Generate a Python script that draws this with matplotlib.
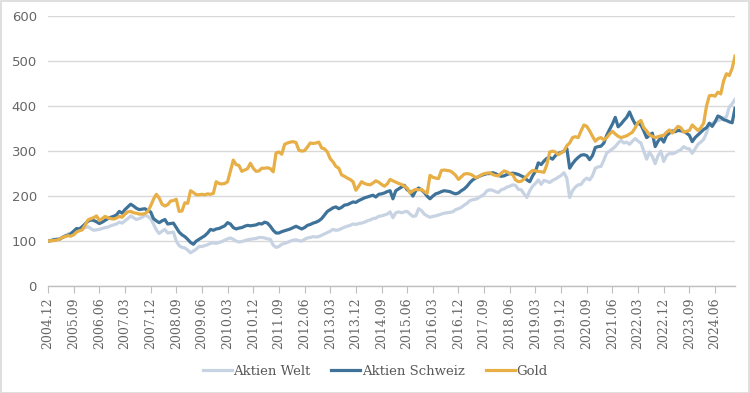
import matplotlib
matplotlib.use("Agg")
import matplotlib.pyplot as plt
from matplotlib.patches import Rectangle

# Monthly index values, 2004.12 .. 2025.01 (each row = 12 months starting in December)
aktien_welt = [
    100, 102, 103, 104, 105, 108, 112, 116, 118, 120, 124, 126,
    128, 130, 132, 128, 124, 125, 126, 128, 130, 131, 134, 136,
    138, 142, 140, 145, 150, 156, 152, 148, 150, 153, 157, 155,
    150, 138, 125, 117, 122, 126, 118, 119, 120, 100, 90, 86,
    85, 80, 74, 78, 82, 88, 88, 90, 92, 95, 96, 95,
    97, 99, 102, 105, 107, 104, 100, 98, 99, 101, 103, 104,
    105, 106, 108, 108, 107, 105, 104, 91, 86, 88, 93, 95,
    97, 100, 102, 103, 101, 100, 104, 107, 108, 110, 109, 110,
    113, 116, 119, 122, 126, 124, 125, 128, 131, 133, 135, 138,
    137, 139, 140, 142, 145, 147, 150, 151, 155, 156, 158, 160,
    165, 152, 163, 165, 163, 165, 166, 160, 155, 156, 172, 168,
    160, 156, 153, 155, 156, 158, 160, 162, 163, 164, 165, 170,
    172, 175, 180, 184, 190, 192, 193, 196, 200, 204, 212, 214,
    213, 210, 208, 214, 216, 220, 222, 225, 224, 215, 214, 205,
    197, 212, 222, 228, 236, 226, 235, 233, 230, 235, 238, 242,
    246, 252, 240, 197, 212, 220, 225, 226, 235, 240, 236, 245,
    262, 265, 266, 280, 296, 300, 305, 310, 318, 324, 318, 320,
    315, 322, 328, 322, 318, 300, 282, 298, 288, 272, 290, 300,
    277, 290, 295, 294, 296, 300, 303, 310, 306, 305, 295, 305,
    315, 320, 326, 340, 360, 362, 365, 368, 370, 374, 376, 398,
    405, 415,
]

aktien_schweiz = [
    100, 101, 103, 104, 104, 108, 111, 113, 116, 122, 128, 127,
    132, 138, 144, 147, 146, 143, 139, 142, 146, 150, 153, 155,
    158, 166, 162, 170, 176, 182, 178, 173, 170, 171, 172, 168,
    165, 150, 145, 141, 145, 148, 138, 139, 140, 130, 120, 114,
    110, 104, 97, 93, 100, 104, 108, 112, 118, 126, 124, 127,
    128, 131, 134, 141, 138, 130, 127, 129, 130, 133, 135, 134,
    135, 136, 139, 138, 142, 140, 133, 124, 118, 118, 121, 123,
    125, 127, 130, 133, 130, 127, 130, 135, 137, 140, 142, 145,
    150, 158, 166, 170, 174, 176, 172, 175, 180, 181, 184, 187,
    186, 190, 193, 196, 198, 200, 202, 198, 204, 205, 207, 210,
    212, 194, 212, 216, 220, 224, 214, 210, 200, 212, 218, 214,
    208, 200, 194, 200, 205, 207, 210, 212, 211, 210, 207, 205,
    207, 212, 216, 222, 230, 236, 240, 243, 246, 248, 250, 250,
    252, 250, 246, 244, 245, 248, 250, 251, 250, 248, 245, 242,
    236, 232, 245, 255, 274, 270, 278, 284, 286, 282, 290, 295,
    297, 300, 306, 262, 272, 280, 286, 291, 292, 290, 281, 290,
    308, 310, 311, 318, 335, 348, 360, 375, 354, 360, 368, 375,
    387, 372, 360, 362, 358, 345, 330, 335, 340, 310, 322, 330,
    320, 335, 340, 345, 343, 346, 345, 344, 340, 335, 321, 330,
    336, 342, 348, 352, 362, 355, 365, 378, 375, 370, 368, 365,
    363, 395,
]

gold = [
    100, 101, 101, 102, 104, 108, 110, 112, 111, 114, 120, 123,
    125, 135, 147, 150, 152, 156, 146, 150, 155, 152, 150, 149,
    151, 155, 153, 160, 165, 166, 163, 162, 160, 160, 161, 166,
    178, 193, 204, 196, 182, 178, 181, 189, 190, 193, 166, 167,
    185, 184, 212, 208, 203, 203, 204, 203, 205, 204, 206, 232,
    228, 227, 228, 232, 256, 280, 270, 268, 255, 258, 261, 273,
    262, 255, 256, 262, 262, 263, 261, 254, 296, 298, 293, 315,
    318, 320, 321, 319, 302, 300, 301, 309, 318, 317, 318, 320,
    307, 305, 298, 283, 276, 266, 262, 247, 244, 240, 237, 232,
    213, 222, 232, 228, 226, 225, 229, 234, 231, 226, 222, 227,
    237, 234, 231, 228, 226, 222, 218, 207, 212, 215, 214, 215,
    210, 206, 246, 242, 240, 239, 257, 258, 257, 256, 252, 246,
    237, 243, 249, 250, 249, 246, 241, 243, 247, 250, 251, 252,
    248, 246, 245, 251, 256, 254, 250, 248, 236, 232, 233, 238,
    245, 252, 257, 256, 255, 254, 253, 270, 298, 300, 298, 292,
    296, 300, 312, 318, 330, 332, 330, 345, 358, 355, 345, 333,
    322, 328, 330, 325, 330, 338, 344, 338, 333, 330, 332, 334,
    338, 342, 352, 364, 368, 352, 345, 336, 333, 330, 332, 334,
    335, 342, 347, 340, 348, 355, 352, 342, 344, 346, 358, 352,
    346, 352, 362, 400, 423, 424, 422, 431, 427, 456, 472, 468,
    484, 511,
]

series_names = ["Aktien Welt", "Aktien Schweiz", "Gold"]
y_ticks = [0, 100, 200, 300, 400, 500, 600]


def month_label(i):
    y = 2004 + (11 + i) // 12
    m = (11 + i) % 12 + 1
    return f"{y}.{m:02d}"


n = len(gold)
labels = [month_label(i) for i in range(n)]
tick_pos = list(range(0, n, 9))
tick_lab = [labels[i] for i in tick_pos]
xs = list(range(n))

fig = plt.figure(figsize=(7.5, 3.93), dpi=100)
ax = fig.add_axes([0.064, 0.272, 0.916, 0.687])

colors = ["#C7D3E3", "#3E7299", "#E7AF45"]
for vals, name, c in zip([aktien_welt, aktien_schweiz, gold], series_names, colors):
    ax.plot(xs, vals, color=c, lw=2.3, label=name, solid_joinstyle="round")

ax.set_xlim(0, n - 1)
ax.set_ylim(0, 600)
ax.set_yticks(y_ticks)
ax.grid(axis="y", color="#D9D9D9", lw=1.0)
ax.set_axisbelow(True)
for s in ["top", "right", "left"]:
    ax.spines[s].set_visible(False)
ax.spines["bottom"].set_color("#BFBFBF")
ax.spines["bottom"].set_linewidth(1.0)
ax.tick_params(axis="y", length=0, labelsize=9.5, labelcolor="#666666", pad=8)
ax.set_xticks(tick_pos)
ax.set_xticklabels(tick_lab, rotation=90, fontsize=9, color="#666666",
                   family="DejaVu Serif")
ax.tick_params(axis="x", length=5, color="#BFBFBF", pad=3)

leg = fig.legend(loc="center", bbox_to_anchor=(0.5, 0.055), ncol=3, frameon=False,
                 prop={"family": "DejaVu Serif", "size": 9.5}, handlelength=2.2,
                 columnspacing=1.6, handletextpad=0.1)
for t in leg.get_texts():
    t.set_color("#595959")

fig.patches.append(Rectangle((0.001, 0.001), 0.997, 0.996, transform=fig.transFigure,
                             fill=False, edgecolor="#D9D9D9", lw=1.2))

fig.savefig("out.png", dpi=100, facecolor="white")
